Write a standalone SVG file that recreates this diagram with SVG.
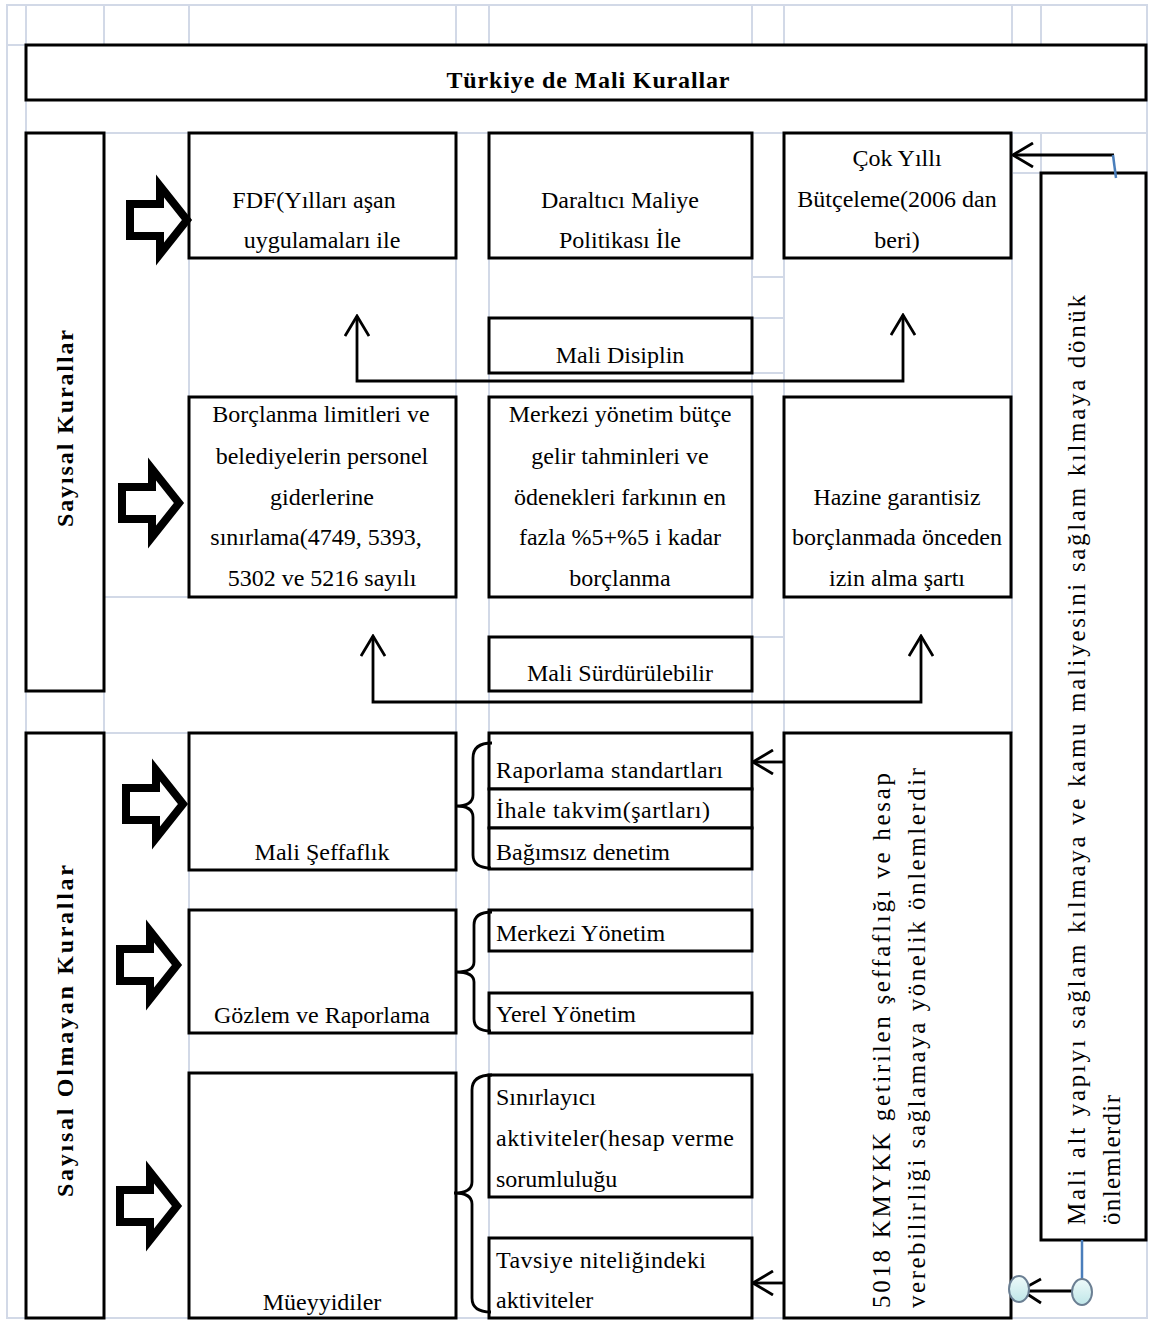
<svg xmlns="http://www.w3.org/2000/svg" width="1151" height="1322" viewBox="0 0 1151 1322">
<style>
.g{stroke:#d2d9e7;stroke-width:2;fill:none}
.box{fill:#fff;stroke:#000;stroke-width:3}
.t{font-family:"Liberation Serif","Times New Roman",serif;font-size:24px;fill:#000}
.r{font-size:25px}
.c{text-anchor:middle}
.b{font-weight:bold}
.con{fill:none;stroke:#000;stroke-width:2.8}
.blk{fill:#fff;stroke:#000;stroke-width:8;stroke-linejoin:miter}
.brace{fill:none;stroke:#000;stroke-width:2.8}
.blue{stroke:#4a7ebb;stroke-width:2.5;fill:none}
.dot{fill:url(#cy);stroke:#6b7f93;stroke-width:2}
</style>
<defs>
<marker id="ah" markerUnits="userSpaceOnUse" viewBox="0 0 24 26" markerWidth="24" markerHeight="26" refX="22" refY="13" orient="auto">
<path d="M2,1 L22,13 L2,25" fill="none" stroke="#000" stroke-width="2.8"/>
</marker>
<linearGradient id="cy" x1="0" y1="0" x2="0" y2="1">
<stop offset="0" stop-color="#eefafa"/><stop offset="1" stop-color="#bfe6e8"/>
</linearGradient>
<path id="bigarrow" d="M-60,-16 L-30,-16 L-30,-34 L-3,0 L-30,34 L-30,16 L-60,16 Z"/>
</defs>

<g id="grid">
<rect class="g" x="7" y="5" width="1140" height="1313"/>
<path class="g" d="M26,5V45 M104,5V45 M189,5V45 M456,5V45 M489,5V45 M752,5V45 M784,5V45 M1012,5V45 M1041,5V45 M7,45H26 M26,100V133 M26,133H1147 M1041,133V173 M1012,173H1041 M189,258V397 M456,133V1318 M489,133V1318 M752,133V1318 M784,133V1318 M1012,133V733 M752,277H784 M752,318H784 M752,373H784 M752,637H784 M104,597H189 M104,733H189 M26,691V733 M104,691V733 M189,733V1318"/>
</g>

<g id="title"><rect class="box" x="26" y="45" width="1120" height="55"/><text class="t c b" x="588" y="88" textLength="283" lengthAdjust="spacing">Türkiye de Mali Kurallar</text></g>

<g id="sayisal-kurallar"><rect class="box" x="26" y="133" width="78" height="558"/><text class="t b" transform="translate(73,527) rotate(-90)" textLength="197" lengthAdjust="spacing">Sayısal Kurallar</text></g>
<g id="sayisal-olmayan"><rect class="box" x="26" y="733" width="78" height="585"/><text class="t b" transform="translate(73,1197) rotate(-90)" textLength="332" lengthAdjust="spacing">Sayısal Olmayan Kurallar</text></g>

<g id="fdf"><rect class="box" x="189" y="133" width="267" height="125"/><text class="t c" x="314" y="208">FDF(Yılları aşan</text><text class="t c" x="322" y="248">uygulamaları ile</text></g>
<g id="daraltici"><rect class="box" x="489" y="133" width="263" height="125"/><text class="t c" x="620" y="208">Daraltıcı Maliye</text><text class="t c" x="620" y="248">Politikası İle</text></g>
<g id="cok-yilli"><rect class="box" x="784" y="133" width="227" height="125"/><text class="t c" x="897" y="166">Çok Yıllı</text><text class="t c" x="897" y="207">Bütçeleme(2006 dan</text><text class="t c" x="897" y="248">beri)</text></g>

<g id="mali-disiplin"><rect class="box" x="489" y="318" width="263" height="55"/><text class="t c" x="620" y="363">Mali Disiplin</text></g>

<g id="borclanma"><rect class="box" x="189" y="397" width="267" height="200"/>
<text class="t c" x="321" y="422">Borçlanma limitleri  ve</text>
<text class="t c" x="322" y="464">belediyelerin personel</text>
<text class="t c" x="322" y="505">giderlerine</text>
<text class="t c" x="316" y="545">sınırlama(4749, 5393,</text>
<text class="t c" x="322" y="586">5302 ve 5216 sayılı</text></g>
<g id="merkezi-butce"><rect class="box" x="489" y="397" width="263" height="200"/>
<text class="t c" x="620" y="422">Merkezi yönetim bütçe</text>
<text class="t c" x="620" y="464">gelir tahminleri ve</text>
<text class="t c" x="620" y="505">ödenekleri farkının en</text>
<text class="t c" x="620" y="545">fazla %5+%5 i kadar</text>
<text class="t c" x="620" y="586">borçlanma</text></g>
<g id="hazine"><rect class="box" x="784" y="397" width="227" height="200"/>
<text class="t c" x="897" y="505">Hazine garantisiz</text>
<text class="t c" x="897" y="545">borçlanmada önceden</text>
<text class="t c" x="897" y="586">izin alma şartı</text></g>

<g id="mali-surdurulebilir"><rect class="box" x="489" y="637" width="263" height="54"/><text class="t c" x="620" y="681">Mali Sürdürülebilir</text></g>

<g id="mali-seffaflik"><rect class="box" x="189" y="733" width="267" height="137"/><text class="t c" x="322" y="860">Mali Şeffaflık</text></g>
<g id="seffaflik-alt"><rect class="box" x="489" y="733" width="263" height="56"/><rect class="box" x="489" y="789" width="263" height="39"/><rect class="box" x="489" y="828" width="263" height="41"/>
<text class="t" x="496" y="778" textLength="227" lengthAdjust="spacing">Raporlama standartları</text>
<text class="t" x="496" y="818" textLength="214" lengthAdjust="spacing">İhale takvim(şartları)</text>
<text class="t" x="496" y="860">Bağımsız denetim</text></g>

<g id="gozlem"><rect class="box" x="189" y="910" width="267" height="123"/><text class="t c" x="322" y="1023">Gözlem ve Raporlama</text></g>
<g id="merkezi-yonetim"><rect class="box" x="489" y="910" width="263" height="41"/><text class="t" x="496" y="941">Merkezi Yönetim</text></g>
<g id="yerel-yonetim"><rect class="box" x="489" y="993" width="263" height="40"/><text class="t" x="496" y="1022">Yerel Yönetim</text></g>

<g id="mueyyidiler"><rect class="box" x="189" y="1073" width="267" height="245"/><text class="t c" x="322" y="1310">Müeyyidiler</text></g>
<g id="sinirlayici"><rect class="box" x="489" y="1075" width="263" height="122"/>
<text class="t" x="496" y="1105">Sınırlayıcı</text>
<text class="t" x="496" y="1146" textLength="238" lengthAdjust="spacing">aktiviteler(hesap verme</text>
<text class="t" x="496" y="1187">sorumluluğu</text></g>
<g id="tavsiye"><rect class="box" x="489" y="1238" width="263" height="80"/>
<text class="t" x="496" y="1268" textLength="210" lengthAdjust="spacing">Tavsiye niteliğindeki</text>
<text class="t" x="496" y="1308">aktiviteler</text></g>

<g id="kmykk"><rect class="box" x="784" y="733" width="227" height="585"/>
<text class="t r" transform="translate(890,1308) rotate(-90)" textLength="535" lengthAdjust="spacing">5018 KMYKK getirilen şeffaflığı ve hesap</text>
<text class="t r" transform="translate(925,1308) rotate(-90)" textLength="540" lengthAdjust="spacing">verebilirliği sağlamaya yönelik önlemlerdir</text></g>

<g id="mali-alt-yapi"><rect class="box" x="1041" y="173" width="105" height="1067"/>
<text class="t r" transform="translate(1085,1225) rotate(-90)" textLength="930" lengthAdjust="spacing">Mali alt yapıyı sağlam kılmaya ve kamu maliyesini sağlam kılmaya dönük</text>
<text class="t r" transform="translate(1120,1225) rotate(-90)" textLength="130" lengthAdjust="spacing">önlemlerdir</text></g>

<g id="block-arrows">
<use href="#bigarrow" class="blk" transform="translate(190,220)"/>
<use href="#bigarrow" class="blk" transform="translate(182,503)"/>
<use href="#bigarrow" class="blk" transform="translate(186,804)"/>
<use href="#bigarrow" class="blk" transform="translate(180,965)"/>
<use href="#bigarrow" class="blk" transform="translate(180,1206)"/>
</g>

<g id="connectors">
<path class="con" d="M630,381 H357 V316" marker-end="url(#ah)"/>
<path class="con" d="M630,381 H903 V315" marker-end="url(#ah)"/>
<path class="con" d="M640,702 H373 V636" marker-end="url(#ah)"/>
<path class="con" d="M640,702 H921 V636" marker-end="url(#ah)"/>
<path class="con" d="M1114,155 H1013" marker-end="url(#ah)"/>
<path class="blue" d="M1113,155 L1116,178"/>
<path class="con" d="M784,762 H753" marker-end="url(#ah)"/>
<path class="con" d="M784,1283 H753" marker-end="url(#ah)"/>
<path class="brace" d="M492,743 Q473,743 473,758 L473,795 Q473,806 456,806 Q473,806 473,817 L473,855 Q473,868 491,868"/>
<path class="brace" d="M492,912 Q474,912 474,925 L474,962 Q474,972 456,972 Q474,972 474,982 L474,1019 Q474,1031 491,1031"/>
<path class="brace" d="M492,1075 Q472,1075 472,1090 L472,1182 Q472,1193 454,1193 Q472,1193 472,1204 L472,1298 Q472,1312 491,1312"/>
<path class="blue" d="M1082,1240 V1280"/>
<path class="con" d="M1072,1291 H1022"/>
<path class="con" d="M1041,1279 L1021,1290 L1041,1303"/>
<ellipse class="dot" cx="1019" cy="1289" rx="10" ry="13"/>
<ellipse class="dot" cx="1082" cy="1292" rx="10" ry="13"/>
</g>
</svg>
